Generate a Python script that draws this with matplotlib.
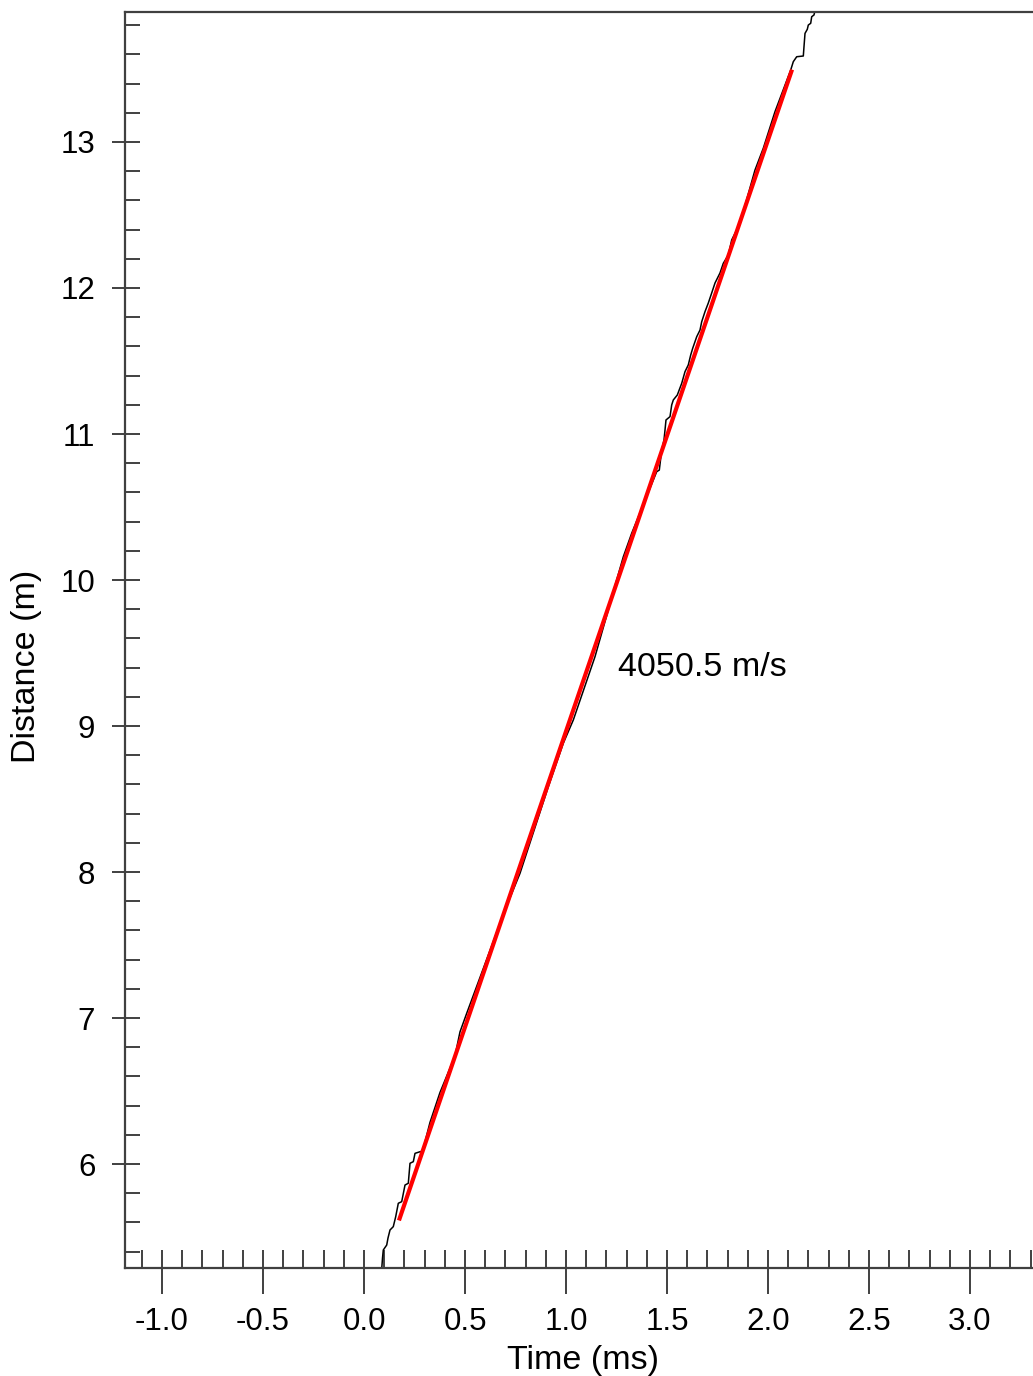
import matplotlib
matplotlib.use("Agg")
import matplotlib.pyplot as plt
from matplotlib.ticker import MultipleLocator
import numpy as np

# Picked arrival trace: time (ms) vs. distance (m)
trace_t = [0.0876, 0.0916, 0.0955, 0.1124, 0.1188, 0.1287, 0.1450, 0.1569,
           0.1698, 0.1866, 0.2030, 0.2193, 0.2277, 0.2441, 0.2525, 0.2772,
           0.2900, 0.3267, 0.3762, 0.4505, 0.4752, 0.5084, 0.6980, 0.7723,
           0.9124, 0.9866, 1.0361, 1.1436, 1.2094, 1.2178, 1.2837, 1.3252,
           1.4490, 1.4619, 1.4738, 1.4851, 1.4901, 1.4950, 1.5149, 1.5233,
           1.5312, 1.5510, 1.5728, 1.5891, 1.6054, 1.6173, 1.6272, 1.6470,
           1.6634, 1.6718, 1.6881, 1.7045, 1.7213, 1.7376, 1.7624, 1.7787,
           1.8035, 1.8203, 1.8614, 1.9356, 1.9767, 2.0347, 2.1124, 2.1252,
           2.1421, 2.1748, 2.1782, 2.1832, 2.1946, 2.1995, 2.2114, 2.2163,
           2.2277, 2.2327]
trace_d = [5.280, 5.356, 5.411, 5.445, 5.493, 5.548, 5.571, 5.639,
           5.731, 5.742, 5.856, 5.868, 6.005, 6.016, 6.073, 6.084,
           6.087, 6.285, 6.490, 6.740, 6.905, 7.032, 7.740, 7.991,
           8.584, 8.882, 9.041, 9.475, 9.795, 9.840, 10.159, 10.320,
           10.742, 10.753, 10.890, 10.959, 11.027, 11.096, 11.119, 11.199,
           11.233, 11.267, 11.347, 11.427, 11.473, 11.541, 11.587, 11.666,
           11.712, 11.769, 11.838, 11.897, 11.966, 12.034, 12.103, 12.169,
           12.226, 12.329, 12.443, 12.808, 12.957, 13.208, 13.493, 13.550,
           13.584, 13.589, 13.653, 13.744, 13.772, 13.801, 13.813, 13.858,
           13.870, 13.900]

# Linear velocity fit
velocity = 4050.5          # m/s  (= 4.0505 m/ms)
fit_t = [0.173, 2.119]     # ms
fit_t_mid = 1.146          # ms
fit_d_mid = 9.5545         # m
fit_label = "4050.5 m/s"
label_pos = (1.257, 9.404)

x_major = [-1.0, -0.5, 0.0, 0.5, 1.0, 1.5, 2.0, 2.5, 3.0]
y_major = [6, 7, 8, 9, 10, 11, 12, 13]

plt.rcParams['font.family'] = ['Liberation Sans', 'DejaVu Sans']

fig = plt.figure(figsize=(10.33, 13.76), dpi=100)
ax = fig.add_axes([125 / 1033, 1 - 1268 / 1376, 1 - 125 / 1033, (1268 - 12) / 1376])

ax.plot(trace_t, trace_d, color='black', lw=1.1, zorder=2)
fit_t = np.array(fit_t)
fit_d = fit_d_mid + velocity / 1000.0 * (fit_t - fit_t_mid)
ax.plot(fit_t, fit_d, color='#ff0000', lw=3.0, solid_capstyle='butt', zorder=3)
ax.text(label_pos[0], label_pos[1], fit_label, fontsize=24.5, ha='left',
        va='center', color='black')

ax.set_xlim(-1.1832, 3.3119)
ax.set_ylim(5.2877, 13.8904)

spine_col = '#404040'
for s in ['left', 'bottom', 'top']:
    ax.spines[s].set_color(spine_col)
    ax.spines[s].set_linewidth(1.6)
ax.spines['right'].set_visible(False)

ax.set_xticks(x_major)
ax.set_xticklabels([f"{v:.1f}" for v in x_major])
ax.set_yticks(y_major)
ax.set_yticklabels([str(v) for v in y_major])
ax.xaxis.set_minor_locator(MultipleLocator(0.1))
ax.yaxis.set_minor_locator(MultipleLocator(0.2))
ax.xaxis.remove_overlapping_locs = False
ax.yaxis.remove_overlapping_locs = False

ax.tick_params(axis='x', which='major', direction='out', length=18.7, width=1.4,
               color=spine_col, labelsize=22.5, pad=9.5, top=False)
ax.tick_params(axis='x', which='minor', direction='in', length=13, width=1.4,
               color=spine_col, top=False)
ax.tick_params(axis='y', which='major', direction='out', length=9.4, width=1.4,
               color=spine_col, labelsize=22.5, pad=12, right=False)
ax.tick_params(axis='y', which='minor', direction='in', length=11, width=1.4,
               color=spine_col, right=False)

ax.set_xlabel("Time (ms)", fontsize=24.5)
ax.xaxis.set_label_coords((583 - 125) / 908, (1268 - 1360) / 1256)
ax.xaxis.label.set_va('center')
ax.set_ylabel("Distance (m)", fontsize=24.5)
ax.yaxis.set_label_coords((27 - 125) / 908, (1268 - 666) / 1256)
ax.yaxis.label.set_va('center')

fig.savefig("out.png", dpi=100)
